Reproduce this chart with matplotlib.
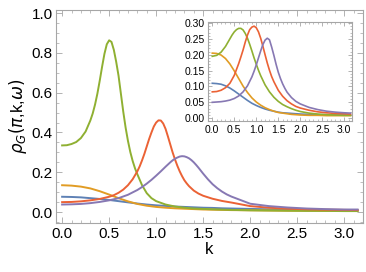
import numpy as np
import matplotlib.pyplot as plt
from matplotlib.ticker import MultipleLocator

plt.rcParams['font.family'] = ['Liberation Sans', 'DejaVu Sans']
plt.rcParams['mathtext.fontset'] = 'dejavusans'

# ---- main panel, values ----
k_blue = [0.0, 0.1, 0.2, 0.3, 0.4, 0.5, 0.6, 0.7, 0.8, 0.9, 1.0, 1.1, 1.2, 1.3, 1.4, 1.5,
          1.6, 1.7, 1.8, 2.0, 2.2, 2.4, 2.6, 2.8, 3.0, 3.1416]
blue_main = [0.077, 0.076, 0.074, 0.070, 0.066, 0.061, 0.055, 0.049, 0.043, 0.038, 0.034, 0.031,
             0.028, 0.026, 0.024, 0.022, 0.021, 0.019, 0.018, 0.016, 0.014, 0.013, 0.012, 0.011,
             0.010, 0.010]
k_orange = [0.0, 0.1, 0.2, 0.3, 0.4, 0.5, 0.6, 0.7, 0.8, 0.9, 1.0, 1.1, 1.2, 1.3, 1.4, 1.5,
            1.6, 1.7, 1.8, 2.0, 2.2, 2.4, 2.6, 2.8, 3.0, 3.1416]
orange_main = [0.135, 0.133, 0.128, 0.119, 0.105, 0.088, 0.070, 0.054, 0.041, 0.032, 0.026, 0.022,
               0.019, 0.017, 0.015, 0.013, 0.012, 0.011, 0.010, 0.009, 0.008, 0.007, 0.007, 0.006,
               0.006, 0.006]
k_green = [0.0, 0.05, 0.1, 0.15, 0.2, 0.25, 0.3, 0.325, 0.35, 0.375, 0.4, 0.425, 0.45, 0.475,
           0.5, 0.525, 0.55, 0.575, 0.6, 0.625, 0.65, 0.675, 0.7, 0.725, 0.75, 0.775, 0.8,
           0.85, 0.9, 0.95, 1.0, 1.1, 1.2, 1.3, 1.4, 1.5, 1.6, 1.8, 2.0, 2.2, 2.4, 2.6, 2.8,
           3.0, 3.1416]
green_main = [0.335, 0.336, 0.342, 0.352, 0.372, 0.405, 0.46, 0.495, 0.54, 0.595, 0.66, 0.73,
              0.795, 0.843, 0.863, 0.855, 0.815, 0.755, 0.685, 0.595, 0.505, 0.425, 0.358,
              0.302, 0.257, 0.22, 0.19, 0.135, 0.095, 0.07, 0.055, 0.038, 0.028, 0.022, 0.018,
              0.016, 0.014, 0.011, 0.009, 0.008, 0.007, 0.006, 0.006, 0.005, 0.005]
k_red = [0.0, 0.1, 0.2, 0.3, 0.4, 0.5, 0.55, 0.6, 0.65, 0.7, 0.75, 0.8, 0.825, 0.85, 0.875,
         0.9, 0.925, 0.95, 0.975, 1.0, 1.025, 1.05, 1.075, 1.1, 1.125, 1.15, 1.175, 1.2,
         1.225, 1.25, 1.275, 1.3, 1.325, 1.35, 1.4, 1.45, 1.5, 1.6, 1.7, 1.8, 2.0, 2.2, 2.4,
         2.6, 2.8, 3.0, 3.1416]
red_main = [0.050, 0.051, 0.054, 0.059, 0.066, 0.077, 0.085, 0.097, 0.113, 0.135, 0.165, 0.205,
            0.23, 0.26, 0.293, 0.33, 0.367, 0.40, 0.43, 0.45, 0.461, 0.46, 0.445, 0.418, 0.38,
            0.34, 0.30, 0.265, 0.233, 0.205, 0.181, 0.16, 0.144, 0.13, 0.108, 0.093, 0.082,
            0.067, 0.056, 0.048, 0.030, 0.022, 0.017, 0.014, 0.012, 0.011, 0.010]
k_purple = [0.0, 0.1, 0.2, 0.3, 0.4, 0.5, 0.6, 0.7, 0.8, 0.85, 0.9, 0.95, 1.0, 1.05, 1.1,
            1.15, 1.175, 1.2, 1.225, 1.25, 1.275, 1.3, 1.325, 1.35, 1.375, 1.4, 1.425, 1.45,
            1.5, 1.55, 1.6, 1.65, 1.7, 1.75, 1.8, 2.0, 2.2, 2.4, 2.6, 2.8, 3.0, 3.1416]
purple_main = [0.038, 0.039, 0.041, 0.045, 0.051, 0.059, 0.070, 0.087, 0.111, 0.126, 0.143,
               0.162, 0.183, 0.205, 0.228, 0.25, 0.26, 0.268, 0.274, 0.279, 0.281, 0.28, 0.276,
               0.27, 0.261, 0.25, 0.237, 0.223, 0.193, 0.165, 0.14, 0.12, 0.103, 0.089, 0.078,
               0.042, 0.030, 0.023, 0.018, 0.015, 0.013, 0.013]

# ---- inset panel ----
k_ins = [0.0, 0.1, 0.2, 0.3, 0.4, 0.5, 0.6, 0.7, 0.8, 0.9, 1.0, 1.1, 1.2, 1.3, 1.4, 1.5,
         1.6, 1.7, 1.8, 1.9, 2.0, 2.2, 2.4, 2.6, 2.8, 3.0, 3.1416]
blue_ins = [0.110, 0.109, 0.107, 0.102, 0.095, 0.086, 0.076, 0.066, 0.056, 0.047, 0.040, 0.034,
            0.029, 0.025, 0.022, 0.019, 0.017, 0.016, 0.015, 0.014, 0.013, 0.012, 0.011, 0.011,
            0.010, 0.010, 0.010]
orange_ins = [0.205, 0.204, 0.199, 0.188, 0.171, 0.149, 0.125, 0.101, 0.081, 0.064, 0.051, 0.041,
              0.033, 0.027, 0.022, 0.018, 0.016, 0.014, 0.012, 0.011, 0.010, 0.009, 0.009, 0.008,
              0.008, 0.008, 0.008]
k_green_ins = [0.0, 0.1, 0.2, 0.3, 0.35, 0.4, 0.45, 0.5, 0.55, 0.6, 0.65, 0.7, 0.75, 0.8,
               0.85, 0.9, 0.95, 1.0, 1.05, 1.1, 1.2, 1.3, 1.4, 1.5, 1.6, 1.7, 1.8, 1.9, 2.0,
               2.2, 2.4, 2.6, 2.8, 3.0, 3.1416]
green_ins = [0.195, 0.198, 0.208, 0.226, 0.238, 0.25, 0.262, 0.272, 0.279, 0.283, 0.283, 0.278,
             0.267, 0.252, 0.233, 0.212, 0.19, 0.17, 0.151, 0.134, 0.105, 0.083, 0.066, 0.053,
             0.043, 0.036, 0.030, 0.025, 0.021, 0.016, 0.013, 0.011, 0.010, 0.009, 0.009]
k_red_ins = [0.0, 0.1, 0.2, 0.3, 0.4, 0.5, 0.6, 0.65, 0.7, 0.75, 0.8, 0.85, 0.9, 0.95, 1.0,
             1.05, 1.1, 1.15, 1.2, 1.25, 1.3, 1.35, 1.4, 1.5, 1.6, 1.7, 1.8, 1.9, 2.0, 2.2,
             2.4, 2.6, 2.8, 3.0, 3.1416]
red_ins = [0.083, 0.084, 0.088, 0.096, 0.11, 0.135, 0.172, 0.193, 0.215, 0.24, 0.262, 0.279,
           0.287, 0.29, 0.285, 0.272, 0.252, 0.227, 0.20, 0.174, 0.151, 0.131, 0.115, 0.088,
           0.069, 0.055, 0.045, 0.037, 0.032, 0.025, 0.020, 0.017, 0.015, 0.014, 0.013]
k_purple_ins = [0.0, 0.1, 0.2, 0.3, 0.4, 0.5, 0.6, 0.7, 0.8, 0.9, 0.95, 1.0, 1.05, 1.1, 1.15,
                1.2, 1.25, 1.3, 1.35, 1.4, 1.45, 1.5, 1.55, 1.6, 1.65, 1.7, 1.8, 1.9, 2.0,
                2.2, 2.4, 2.6, 2.8, 3.0, 3.1416]
purple_ins = [0.050, 0.051, 0.052, 0.054, 0.057, 0.062, 0.070, 0.083, 0.102, 0.13, 0.148, 0.168,
              0.19, 0.212, 0.232, 0.246, 0.252, 0.247, 0.224, 0.198, 0.17, 0.145, 0.125, 0.108,
              0.094, 0.082, 0.065, 0.053, 0.045, 0.034, 0.027, 0.022, 0.019, 0.017, 0.016]

colors = ['#5E81B5', '#E19C24', '#8FB032', '#EB6235', '#8778B3']
frame_col = '#a6a6a6'
tick_txt = ['0.0', '0.5', '1.0', '1.5', '2.0', '2.5', '3.0']


def style(ax, fs, maj, minr):
    for s in ax.spines.values():
        s.set_color(frame_col)
        s.set_linewidth(0.8)
    ax.tick_params(which='both', direction='in', top=True, right=True,
                   color=frame_col, labelsize=fs, pad=2.5)
    ax.tick_params(which='major', length=maj, width=0.6)
    ax.tick_params(which='minor', length=minr, width=0.5)


fig = plt.figure(figsize=(3.66, 2.72), dpi=100)
ax = fig.add_axes([0.153, 0.18, 0.839, 0.783])
main_series = [(k_blue, blue_main), (k_orange, orange_main), (k_green, green_main),
               (k_red, red_main), (k_purple, purple_main)]
for (kk, y), c in zip(main_series, colors):
    ax.plot(kk, y, color=c, lw=1.4)
ax.set_xlim(-0.065, 3.2)
ax.set_ylim(-0.055, 1.015)
ax.set_xticks(np.arange(0, 3.01, 0.5))
ax.set_xticklabels(tick_txt)
ax.set_yticks(np.arange(0, 1.01, 0.2))
ax.set_yticklabels(['0.0', '0.2', '0.4', '0.6', '0.8', '1.0'])
ax.xaxis.set_minor_locator(MultipleLocator(0.1))
ax.yaxis.set_minor_locator(MultipleLocator(0.05))
style(ax, 11, 4, 2)
ax.set_xlabel('k', fontsize=12, labelpad=1)
ax.set_ylabel(r'$\rho_G(\pi$,k,$\omega)$', fontsize=12, labelpad=2)

ins = fig.add_axes([0.568, 0.555, 0.393, 0.364])
ins_series = [(k_ins, blue_ins), (k_ins, orange_ins), (k_green_ins, green_ins),
              (k_red_ins, red_ins), (k_purple_ins, purple_ins)]
for (kk, y), c in zip(ins_series, colors):
    ins.plot(kk, y, color=c, lw=1.2)
ins.set_xlim(-0.1, 3.17)
ins.set_ylim(-0.009, 0.303)
ins.set_xticks(np.arange(0, 3.01, 0.5))
ins.set_xticklabels(tick_txt)
ins.set_yticks(np.arange(0, 0.301, 0.05))
ins.set_yticklabels(['0.00', '0.05', '0.10', '0.15', '0.20', '0.25', '0.30'])
ins.xaxis.set_minor_locator(MultipleLocator(0.1))
ins.yaxis.set_minor_locator(MultipleLocator(0.01))
style(ins, 7.5, 3, 1.5)

fig.savefig('out.png', dpi=100)
